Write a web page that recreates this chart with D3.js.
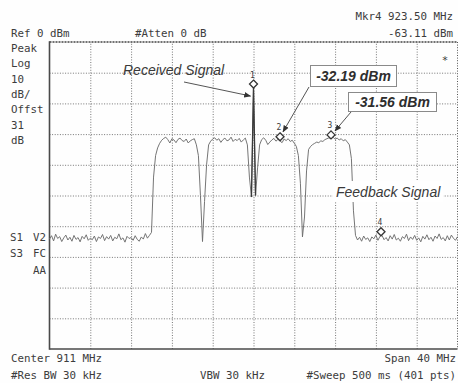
<!DOCTYPE html>
<html>
<head>
<meta charset="utf-8">
<script src="https://cdn.jsdelivr.net/npm/d3@7/dist/d3.min.js"></script>
<style>
  html, body { margin: 0; padding: 0; background: #fefefe; }
  svg { display: block; }
  .mono { font-family: "DejaVu Sans Mono", "Liberation Mono", monospace; font-size: 10.8px; fill: #3c3c3c; }
  .note { font-family: "Liberation Sans", Arial, sans-serif; font-style: italic; font-size: 14px; fill: #3a3a3a; }
  .val { font-family: "Liberation Sans", Arial, sans-serif; font-style: italic; font-weight: bold; font-size: 14px; fill: #2e2e2e; }
</style>
</head>
<body>
<script>
// Sweep settings (MHz / dBm)
const centerFreq = 911;
const spanFreq = 40;
const refLevel = 0;
const dbPerDiv = 10;
const sweepStep = 0.2; // MHz between trace samples

// Grid tick values
const freqTicks = [891, 895, 899, 903, 907, 911, 915, 919, 923, 927, 931];
const levelTicks = [0, -10, -20, -30, -40, -50, -60, -70, -80, -90, -100];

// Trace levels (dBm), one per sweep sample from 891.0 to 931.0 MHz
const traceLevels = [
  // noise floor, lower side
  -64.2,-63.1,-64.8,-62.6,-64.0,-63.4,-65.0,-63.8,-62.9,-64.5,
  -63.6,-64.9,-63.0,-64.3,-63.7,-65.1,-63.3,-64.1,-62.8,-64.6,
  -63.9,-64.4,-63.2,-65.0,-63.5,-64.0,-62.7,-64.7,-63.4,-64.2,
  -63.0,-64.8,-63.6,-64.1,-62.5,-64.4,-63.8,-65.2,-63.3,-64.0,
  -63.7,-64.6,-63.1,-64.3,-64.9,-63.5,-64.2,-62.4,-63.9,-63.0,
  // rising edge
  -62.0,-44.0,-37.0,-34.5,-33.0,-32.0,
  // channel 1
  -31.4,-31.0,-31.8,-32.9,-31.5,-31.9,-32.8,-31.7,-31.3,-32.1,-32.4,-31.6,-32.9,-32.2,-31.8,-31.5,
  // notch 1
  -33.5,-37.0,-50.0,-65.0,-52.0,-40.0,-33.5,
  // channel 2
  -32.3,-31.6,-31.2,-32.0,-31.5,-32.7,-31.8,-31.3,-32.2,-31.9,-31.0,-32.4,-31.7,-32.1,-31.4,-32.6,-31.9,-31.3,
  // received carrier inside its notch
  -33.5,-44.0,-50.5,-15.0,-50.0,-41.0,-33.5,
  // channel 3
  -31.8,-31.2,-32.0,-33.4,-32.6,-31.9,-31.4,-32.3,-31.7,-32.19,-32.8,-31.6,-32.1,-31.5,-32.4,-32.0,-33.0,
  // notch 2
  -34.0,-37.0,-46.0,-63.5,-57.0,-42.0,-35.0,
  // channel 4
  -34.0,-33.4,-33.0,-32.6,-32.8,-32.2,-32.4,-31.8,-31.5,-31.2,-31.56,-31.0,-31.7,-31.3,-31.9,-31.5,-32.2,-31.8,-32.6,
  // falling edge
  -33.5,-38.0,-55.0,-63.0,
  // noise floor, upper side
  -64.5,-63.6,-64.9,-63.2,-64.3,-63.8,-65.0,-63.5,-64.1,-62.9,
  -64.6,-63.3,-63.0,-64.4,-63.7,-64.8,-63.1,-64.2,-62.7,-64.5,
  -63.9,-64.9,-63.4,-64.0,-62.6,-64.7,-63.5,-64.3,-63.0,-64.6,
  -63.8,-65.1,-63.3,-64.2,-62.8,-64.4,-63.6,-64.9,-63.2,-64.0,
  -62.5,-64.3,-63.7,-64.8,-63.1,-64.5,-62.9,-63.9,-64.6,-63.4
];

// Markers
const markerIds = ["1", "2", "3", "4"];
const markerFreqs = [911.0, 913.6, 918.6, 923.5];
const markerLevels = [-15.0, -32.19, -31.56, -63.11];

// Screen annotation texts
const headerLeft = ["Ref 0 dBm", "#Atten 0 dB"];
const headerRight = ["Mkr4 923.50 MHz", "-63.11 dBm"];
const sideLabels = ["Peak", "Log", "10", "dB/", "Offst", "31", "dB"];
const footerLeft = ["Center 911 MHz", "#Res BW 30 kHz"];
const footerMid = "VBW 30 kHz";
const footerRight = ["Span 40 MHz", "#Sweep 500 ms (401 pts)"];

const W = 458, H = 383;
const plot = { left: 49.5, right: 457.5, top: 42, bottom: 349 };

const svg = d3.select("body").append("svg")
  .attr("width", W).attr("height", H);

svg.append("rect").attr("width", W).attr("height", H).attr("fill", "#fefefe");

const startFreq = centerFreq - spanFreq / 2;
const x = d3.scaleLinear().domain([startFreq, centerFreq + spanFreq / 2]).range([plot.left, plot.right]);
const y = d3.scaleLinear().domain([refLevel - 10 * dbPerDiv, refLevel]).range([plot.bottom, plot.top]);

// Graticule built from axes with full-length ticks
const gridV = svg.append("g")
  .attr("transform", `translate(0,${plot.bottom})`)
  .call(d3.axisBottom(x).tickValues(freqTicks.slice(1, -1)).tickSize(-(plot.bottom - plot.top)).tickFormat(""));
const gridH = svg.append("g")
  .attr("transform", `translate(${plot.left},0)`)
  .call(d3.axisLeft(y).tickValues(levelTicks.slice(1, -1)).tickSize(-(plot.right - plot.left)).tickFormat(""));
[gridV, gridH].forEach(g => {
  g.select(".domain").remove();
  g.selectAll(".tick line")
    .attr("stroke", "#767676").attr("stroke-width", 1)
    .attr("stroke-dasharray", "1,1.6");
});

// Frame
svg.append("line").attr("x1", plot.left).attr("x2", plot.right).attr("y1", plot.top).attr("y2", plot.top)
  .attr("stroke", "#444").attr("stroke-width", 1.6).attr("stroke-dasharray", "2,1");
svg.append("line").attr("x1", plot.right).attr("x2", plot.right).attr("y1", plot.top).attr("y2", plot.bottom)
  .attr("stroke", "#555").attr("stroke-width", 1).attr("stroke-dasharray", "1,1.6");
svg.append("line").attr("x1", plot.left).attr("x2", plot.left).attr("y1", plot.top - 0.8).attr("y2", plot.bottom + 0.8)
  .attr("stroke", "#4a4a4a").attr("stroke-width", 1.6);
svg.append("line").attr("x1", plot.left).attr("x2", plot.right).attr("y1", plot.bottom).attr("y2", plot.bottom)
  .attr("stroke", "#4a4a4a").attr("stroke-width", 1.6);

// Trace
const line = d3.line()
  .x((d, i) => x(startFreq + i * sweepStep))
  .y(d => y(d));
svg.append("path")
  .datum(traceLevels)
  .attr("d", line)
  .attr("fill", "none")
  .attr("stroke", "#6e6e6e")
  .attr("stroke-width", 0.95)
  .attr("stroke-linejoin", "round");

// Carrier spike drawn heavier, as the repeated sweep strokes make it look
const peakIdx = traceLevels.indexOf(d3.max(traceLevels));
svg.append("path")
  .datum(traceLevels.slice(peakIdx - 1, peakIdx + 2))
  .attr("d", d3.line().x((d, i) => x(startFreq + (peakIdx - 1 + i) * sweepStep)).y(d => y(d)))
  .attr("fill", "none").attr("stroke", "#3a3a3a").attr("stroke-width", 1.3);

// Markers: diamond resting on the trace point
const mk = svg.append("g");
markerIds.forEach((id, i) => {
  const cx = x(markerFreqs[i]);
  const cy = y(markerLevels[i]) - 4;
  mk.append("path")
    .attr("d", `M${cx},${cy - 4}L${cx + 4},${cy}L${cx},${cy + 4}L${cx - 4},${cy}Z`)
    .attr("fill", "#fff").attr("stroke", "#333").attr("stroke-width", 1.3);
  mk.append("text").attr("class", "mono")
    .attr("x", cx - 1).attr("y", cy - 6.5)
    .attr("text-anchor", "middle")
    .style("font-size", "8px")
    .text(id);
});

// Annotation arrows
const defs = svg.append("defs");
defs.append("marker").attr("id", "ah")
  .attr("viewBox", "0 0 10 10").attr("refX", 9).attr("refY", 5)
  .attr("markerWidth", 7).attr("markerHeight", 7).attr("orient", "auto")
  .append("path").attr("d", "M0,1L10,5L0,9Z").attr("fill", "#333");

function arrow(x1, y1, x2, y2) {
  svg.append("line").attr("x1", x1).attr("y1", y1).attr("x2", x2).attr("y2", y2)
    .attr("stroke", "#555").attr("stroke-width", 1).attr("marker-end", "url(#ah)");
}

// "Received Signal"
svg.append("text").attr("class", "note").attr("x", 123).attr("y", 75).text("Received Signal");
arrow(184, 82, x(markerFreqs[0]) - 3, 96);

// Value callouts for markers 2 and 3
function callout(bx, by, bw, bh, txt) {
  svg.append("rect").attr("x", bx).attr("y", by).attr("width", bw).attr("height", bh)
    .attr("fill", "#fff").attr("stroke", "#8a8a8a").attr("stroke-width", 1);
  svg.append("text").attr("class", "val")
    .attr("x", bx + bw / 2).attr("y", by + bh / 2 + 5)
    .attr("text-anchor", "middle").text(txt);
}
callout(310.5, 65.5, 86, 21, markerLevels[1].toFixed(2) + " dBm");
arrow(309, 87, x(markerFreqs[1]) + 3, y(markerLevels[1]) - 9);
callout(348.5, 92.5, 88, 19, markerLevels[2].toFixed(2) + " dBm");
arrow(351, 112, x(markerFreqs[2]) + 4, y(markerLevels[2]) - 8);

// "Feedback Signal" on a white patch
svg.append("rect").attr("x", 333).attr("y", 181).attr("width", 110).attr("height", 21).attr("fill", "#fff");
svg.append("text").attr("class", "note").attr("x", 336).attr("y", 197).text("Feedback Signal");

// Instrument readouts
const t = (txt, tx, ty, anchor) => svg.append("text").attr("class", "mono")
  .attr("x", tx).attr("y", ty).attr("text-anchor", anchor || "start").text(txt);

t(headerLeft[0], 11, 37);
t(headerLeft[1], 135, 37);
t(headerRight[0], 453, 20, "end");
t(headerRight[1], 453, 37, "end");
sideLabels.forEach((s, i) => t(s, 11, 52 + i * 15.3));
t("S1", 10, 241); t("V2", 33, 241);
t("S3", 10, 257); t("FC", 33, 257);
t("AA", 46, 274, "end");
t("*", 445, 64, "middle");
t(footerLeft[0], 11, 362);
t(footerLeft[1], 11, 379);
t(footerMid, 200, 379);
t(footerRight[0], 456, 362, "end");
t(footerRight[1], 456, 379, "end");
</script>
</body>
</html>
